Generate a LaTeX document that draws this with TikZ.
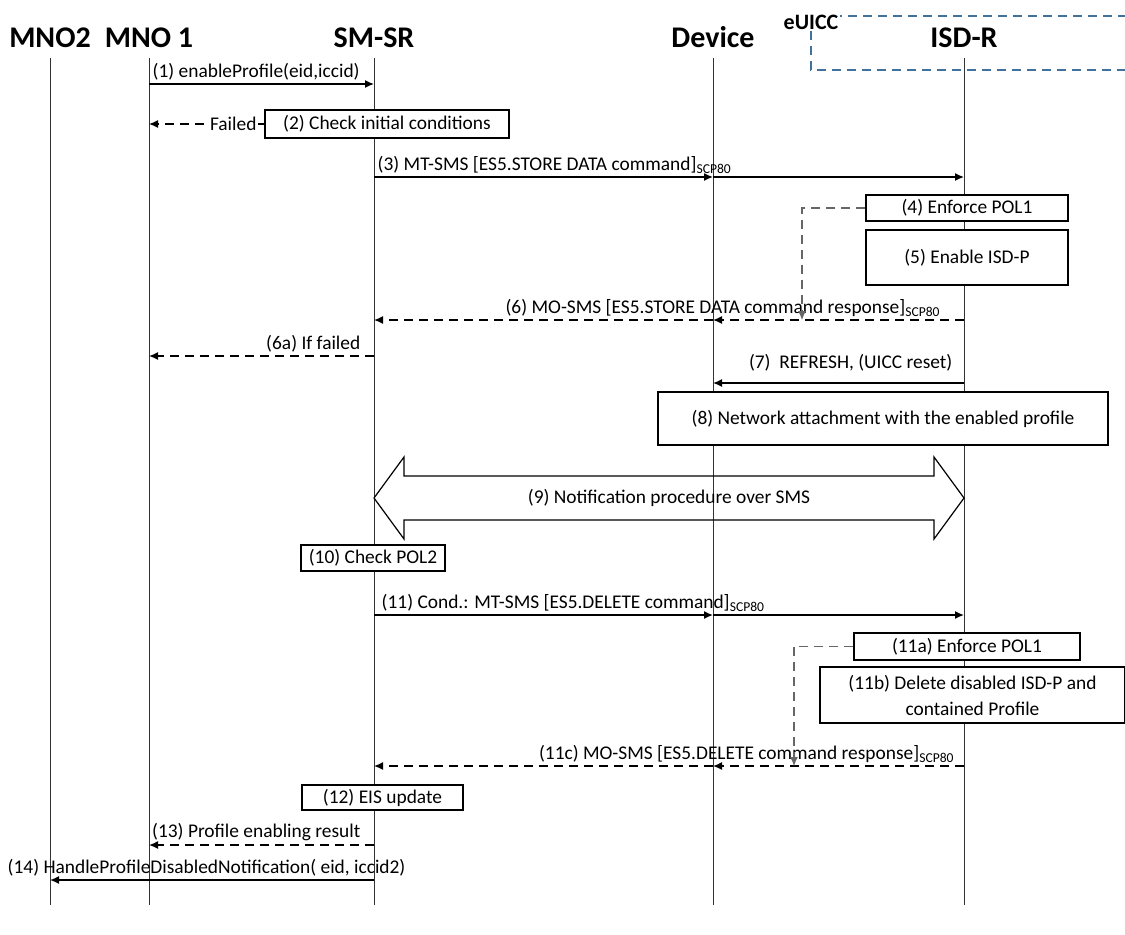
\documentclass[tikz,border=0pt]{standalone}
\usepackage{fontspec}
\setmainfont{Carlito}
\usetikzlibrary{arrows.meta,calc}

\begin{document}
\begin{tikzpicture}[x=0.5pt, y=-0.5pt,
    font=\fontsize{9.7}{11.6}\selectfont,
    head/.style={font=\fontsize{15}{18}\selectfont\bfseries, anchor=base, inner sep=5pt},
    life/.style={black!80, line width=0.5pt},
    msg/.style={line width=0.7pt, -{Latex[length=4.5pt,width=4pt]}},
    ret/.style={msg, dash pattern=on 4.5pt off 3pt},
    pol/.style={black!60, line width=0.6pt, dash pattern=on 4.5pt off 3pt, -{Latex[length=4.5pt,width=4pt]}},
    box/.style={draw, fill=white, line width=0.6pt, inner sep=0pt, align=center},
    lbl/.style={inner sep=1.5pt}]
        \useasboundingbox (0,0) rectangle (1125,934);
        \clip (0,0) rectangle (1125,934);

        \node[head] at (50,47)  (mno2) {MNO2};
        \node[head] at (149,47) (mno1) {MNO 1};
        \node[head] at (374,47) (smsr) {SM-SR};
        \node[head] at (713,47) (dev)  {Device};
        \node[head] at (964,47) (isdr) {ISD-R};
        \coordinate (bot) at (0,905);

        \draw[dash pattern=on 4.5pt off 3pt, line width=0.6pt, color={rgb,255:red,65;green,113;blue,156}] (811,16) rectangle (1140,70);
        \node[font=\fontsize{11}{13}\selectfont\bfseries, fill=white, inner sep=1pt] at (811,22) (eu) {eUICC};

        \draw[life] (mno2.south) -- (mno2 |- bot);
        \draw[life] (mno1.south) -- (mno1 |- bot);
        \draw[life] (smsr.south) -- (smsr |- bot);
        \draw[life] (dev.south)  -- (dev |- bot);
        \draw[life] (isdr.south) -- (isdr |- bot);

        \draw[msg] (mno1 |- 0,84) -- (smsr |- 0,84) node[lbl, pos=0, anchor=south west] {(1) enableProfile(eid,iccid)};

        \node[box, minimum width=122pt, minimum height=14pt] at (387,124) (p2) {(2) Check initial conditions};
        \draw[ret] (p2.west) -- (mno1 |- p2.west) node[pos=0.27, fill=white, inner sep=1pt] {Failed};

        \draw[msg] (smsr |- 0,177) -- (dev |- 0,177) node[lbl, pos=0, anchor=south west] {(3) MT-SMS [ES5.STORE DATA command]\textsubscript{SCP80}};
        \draw[msg] (dev |- 0,177) -- (isdr |- 0,177);

        \node[box, minimum width=101pt, minimum height=13pt] at (967,208) (p4) {(4) Enforce POL1};
        \node[box, minimum width=101pt, minimum height=27.5pt] at (967,257.5) (p5) {(5) Enable ISD-P};

        \coordinate (t6) at (802,320);
        \draw[ret] (isdr |- t6) -- (dev |- t6);
        \draw[ret] (dev |- t6) -- (smsr |- t6);
        \node[lbl, anchor=south east] at ([xshift=-10pt]isdr |- t6) (l6) {(6) MO-SMS [ES5.STORE DATA command response]\textsubscript{SCP80}};
        \draw[pol] (p4.west) -| (t6);

        \draw[ret] (smsr |- 0,356) -- (mno1 |- 0,356) node[lbl, pos=0, anchor=south east, xshift=-5pt] {(6a) If failed};

        \draw[msg] (isdr |- 0,383) -- (dev |- 0,383) node[lbl, pos=0, anchor=south east, xshift=-4pt, yshift=4pt] {(7)\ \ REFRESH, (UICC reset)};

        \node[box, minimum width=225pt, minimum height=26.5pt] at (883,418.5) (p8) {(8) Network attachment with the enabled profile};

        \coordinate (n9a) at (smsr |- 0,498);
        \coordinate (n9b) at (isdr |- 0,498);
        \draw[line width=0.6pt] (n9a) -- ++(30,-41) -- ++(0,19) -- ($(n9b)+(-30,-22)$) -- ++(0,-19) -- (n9b)
            -- ++(-30,41) -- ++(0,-19) -- ($(n9a)+(30,22)$) -- ++(0,19) -- cycle;
        \node at ($(n9a)!0.5!(n9b)$) (p9) {(9) Notification procedure over SMS};

        \node[box, minimum width=72pt, minimum height=13pt] at (373,558) (p10) {(10) Check POL2};

        \draw[msg] (smsr |- 0,615) -- (dev |- 0,615) node[lbl, pos=0, anchor=south west, xshift=2pt] {(11) Cond.: MT-SMS [ES5.DELETE command]\textsubscript{SCP80}};
        \draw[msg] (dev |- 0,615) -- (isdr |- 0,615);

        \node[box, minimum width=113pt, minimum height=13.5pt] at (967,646.5) (p11a) {(11a) Enforce POL1};
        \node[box, minimum width=152.5pt, minimum height=28pt, font=\fontsize{9.7}{13}\selectfont] at (972.5,695) (p11b) {(11b) Delete disabled ISD-P and\\contained Profile};

        \coordinate (t11) at (794,766);
        \draw[ret] (isdr |- t11) -- (dev |- t11);
        \draw[ret] (dev |- t11) -- (smsr |- t11);
        \node[lbl, anchor=south east] at ([xshift=-3pt]isdr |- t11) (l11c) {(11c) MO-SMS [ES5.DELETE command response]\textsubscript{SCP80}};
        \draw[pol] (p11a.west) -| (t11);

        \node[box, minimum width=80.5pt, minimum height=12.5pt] at (382.5,797.5) (p12) {(12) EIS update};

        \draw[ret] (smsr |- 0,845) -- (mno1 |- 0,845) node[lbl, pos=0, anchor=south east, xshift=-5pt] {(13) Profile enabling result};
        \draw[msg] (smsr |- 0,880) -- (mno2 |- 0,880) node[lbl, pos=1, anchor=south west, xshift=-23pt] {(14) HandleProfileDisabledNotification( eid, iccid2)};
    \end{tikzpicture}
\end{document}
